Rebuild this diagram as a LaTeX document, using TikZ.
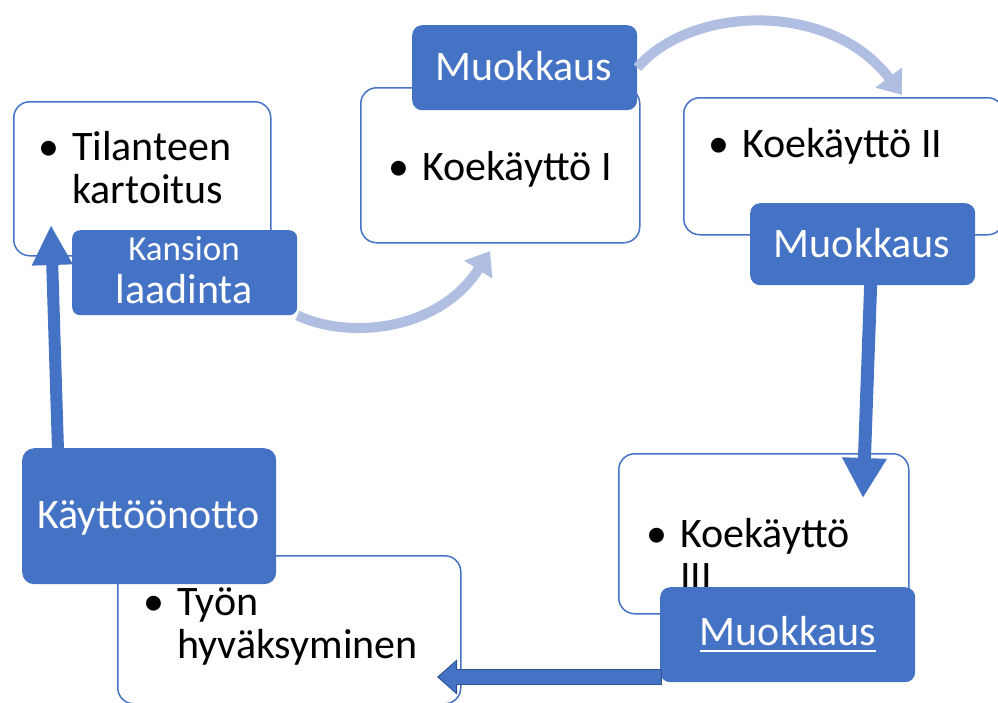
\documentclass[tikz,border=0pt]{standalone}
\usepackage{fontspec}
\setmainfont{Carlito}
\usetikzlibrary{arrows.meta,calc}
\definecolor{ublue}{RGB}{68,114,196}
\definecolor{lblue}{RGB}{176,190,226}
\definecolor{dblue}{RGB}{47,82,143}
\tikzset{
  wbox/.style={draw=ublue, line width=1.5pt, fill=white, rounded corners=16pt, inner sep=0pt, anchor=north west},
  bbox/.style={fill=ublue, rounded corners=10pt, inner sep=0pt, anchor=north west},
  txt/.style={inner sep=0pt, anchor=base west, font=\fontsize{42}{43}\selectfont},
  lbl/.style={inner sep=0pt, anchor=base, text=white, font=\fontsize{42}{43}\selectfont},
  soft/.style={draw=lblue, line width=10pt, -{Triangle[width=32pt,length=22pt]}},
  bold/.style={draw=ublue, line width=13pt, -{Triangle[width=42pt,length=40pt]}}
}
\newcommand{\bul}{\makebox[34pt][l]{•}}

\begin{document}
\begin{tikzpicture}[x=1pt,y=-1pt]
\clip (0,0) rectangle (998,702);
% white boxes
\node[wbox, minimum width=257pt, minimum height=154pt] (tila) at (13,101) {};
\node[wbox, minimum width=279pt, minimum height=155pt] (koe1) at (360,87) {};
\node[wbox, minimum width=320pt, minimum height=137pt] (koe2) at (683,97) {};
\node[wbox, minimum width=290pt, minimum height=160pt] (koe3) at (618,453) {};
\node[wbox, minimum width=343pt, minimum height=148pt] (tyo) at (117,555) {};
\node[txt] (tilat) at (38,160) {\begin{tabular}[t]{@{}l@{}l@{}}\bul & Tilanteen\\ & kartoitus\end{tabular}};
\node[txt] (koe1t) at (388,180) {\bul Koekäyttö I};
\node[txt] (koe2t) at (708,157) {\bul Koekäyttö II};
\node[txt] (koe3t) at (646,547) {\begin{tabular}[t]{@{}l@{}l@{}}\bul & Koekäyttö\\ & III\end{tabular}};
\node[txt] (tyot) at (143,615) {\begin{tabular}[t]{@{}l@{}l@{}}\bul & Työn\\ & hyväksyminen\end{tabular}};
% points the arrows run to
\coordinate (tip1) at (490,251);
\coordinate (tip2) at (902,95);
\coordinate (tipdown) at (863,498);
\coordinate (tipleft) at (437,677);
\coordinate (tipup) at (51,225);
% blue boxes
\node[bbox, minimum width=225pt, minimum height=85pt] (muok1) at (412,25) {};
\node[bbox, minimum width=225pt, minimum height=85pt, rounded corners=8pt] (kans) at (72,230) {};
\node[bbox, minimum width=225pt, minimum height=82pt] (muok2) at (750,203) {};
\node[bbox, minimum width=255pt, minimum height=95pt] (muok3) at (660,587) {};
\node[bbox, minimum width=254pt, minimum height=136pt, rounded corners=12pt] (kayt) at (22,448) {};
\draw[soft] (kans.south east) .. controls ($(kans.south east)+(53,25)$) and ($(tip1)+(-50,79)$) .. (tip1);
\draw[soft] (muok1.east) .. controls ($(muok1.east)+(53,-62)$) and ($(tip2)+(-72,-95)$) .. (tip2);
\node[lbl] (muok1t) at (524,80) {Muokkaus};
\node[lbl] (kanst) at (184,260) {\begin{tabular}[t]{@{}c@{}}{\fontsize{35}{36}\selectfont Kansion}\\laadinta\end{tabular}};
\node[lbl] (muok2t) at (862,257) {Muokkaus};
\node[lbl] (muok3t) at (788,645) {Muokkaus};
\draw[white, line width=2pt] ($(muok3t.base west)+(0,6)$) -- ($(muok3t.base east)+(0,6)$);
\node[lbl] (kaytt) at (148.5,528) {Käyttöönotto};
% thick arrows
\draw[bold] ($(muok2.south)+(8,-2)$) -- (tipdown);
\draw[bold, line width=12pt, -{Triangle[width=38pt,length=40pt]}] ($(kayt.north west)+(36,2)$) -- (tipup);
\draw[draw=dblue, line width=16.5pt, -{Triangle[width=34pt,length=20pt]}] ($(muok3.west |- tipleft)+(2,0)$) -- (tipleft);
\draw[draw=ublue, line width=14pt, -{Triangle[width=30pt,length=17pt]}] ($(muok3.west |- tipleft)+(1.2,0)$) -- ($(tipleft)+(1.8,0)$);
\end{tikzpicture}
\end{document}
